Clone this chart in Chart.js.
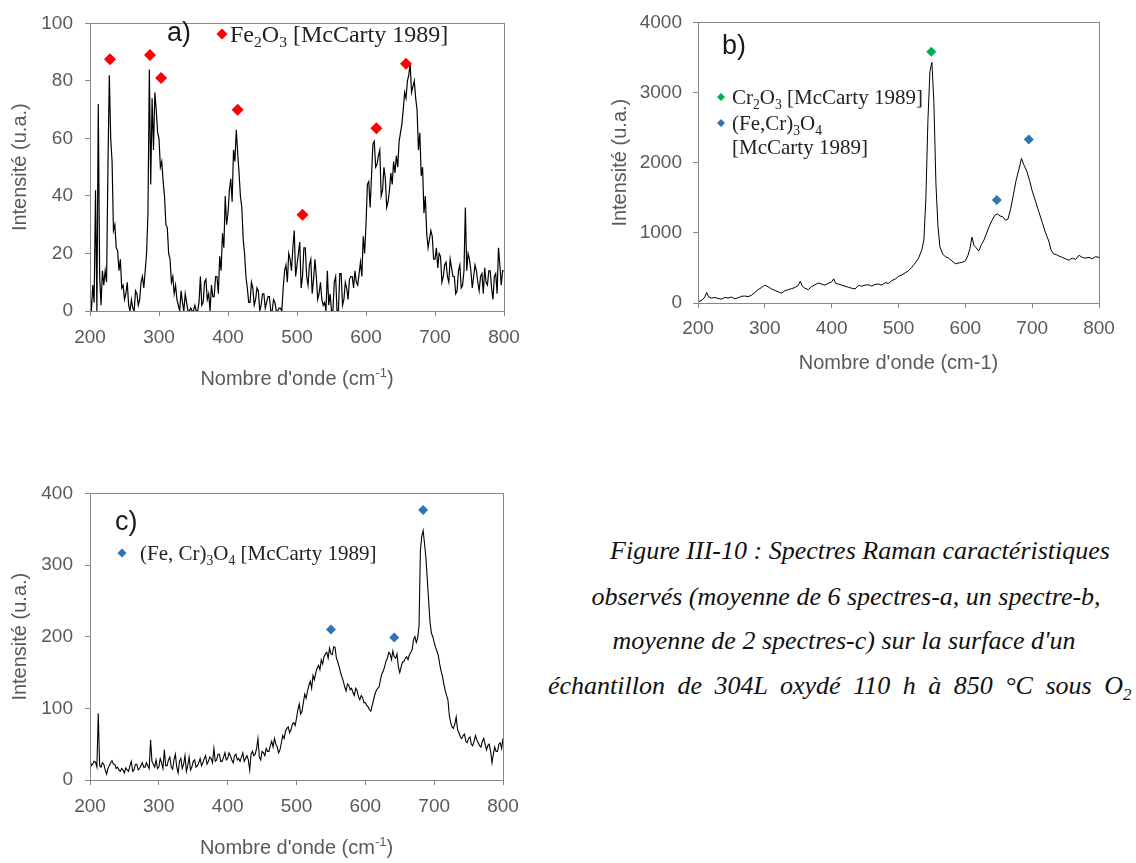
<!DOCTYPE html>
<html lang="fr">
<head>
<meta charset="UTF-8">
<title>Spectres Raman</title>
<script src="https://cdn.jsdelivr.net/npm/chart.js"></script>
<style>
  body { margin: 0; width: 1136px; height: 863px; overflow: hidden; background: #fff; position: relative; }
  .box { position: absolute; }
  .cap { position: absolute; transform: translateX(-50%); white-space: nowrap;
         font: italic 26px "Liberation Serif", "Times New Roman", serif; color: #111; line-height: 30px; }
  .cap sub { font-size: 17px; line-height: 0; }
</style>
</head>
<body>
<div class="box" style="left:0;top:0;width:530px;height:400px"><canvas id="chartA"></canvas></div>
<div class="box" style="left:600px;top:0;width:536px;height:380px"><canvas id="chartB"></canvas></div>
<div class="box" style="left:0;top:470px;width:530px;height:393px"><canvas id="chartC"></canvas></div>

<div class="cap" style="left:860px;top:536px">Figure III-10 : Spectres Raman caractéristiques</div>
<div class="cap" style="left:846px;top:582px">observés (moyenne de 6 spectres-a, un spectre-b,</div>
<div class="cap" style="left:844px;top:626px">moyenne de 2 spectres-c) sur la surface d'un</div>
<div class="cap" style="left:548px;top:671px;transform:none;word-spacing:6px">échantillon de 304L oxydé 110 h à 850 °C sous O<sub>2</sub></div>

<script>
// ---- spectre a) : moyenne de 6 spectres, pas de 2 cm-1 depuis 200
const startA = 200, stepA = 2;
const intensityA = [
  6, 0, 9, 3, 42, 0, 72, 12, 2, 14, 9, 14, 10, 50, 82, 60, 52, 28, 30, 22,
  21, 14, 18, 8, 9, 4, 6, 10, 2, 0, 4, 1, 0, 7, 6, 2, 4, 10, 12, 8,
  14, 20, 34, 84, 44, 74, 56, 76, 70, 62, 60, 50, 52, 45, 40, 30, 29, 20, 18, 10,
  12, 6, 9, 4, 2, 0, 7, 3, 0, 6, 3, 0, 0, 1, 0, 0, 2, 0, 0, 3,
  12, 2, 3, 10, 11, 4, 6, 0, 9, 5, 5, 12, 12, 6, 19, 14, 27, 22, 40, 30,
  34, 42, 46, 38, 56, 52, 63, 55, 48, 40, 36, 25, 20, 12, 8, 3, 3, 10, 8, 2,
  4, 8, 7, 0, 2, 6, 6, 1, 3, 5, 5, 0, 0, 4, 3, 0, 0, 1, 1, 0,
  8, 14, 16, 10, 20, 18, 14, 22, 28, 12, 16, 20, 24, 8, 12, 22, 22, 12, 9, 16,
  18, 6, 11, 18, 12, 4, 6, 10, 4, 2, 3, 0, 14, 2, 6, 0, 0, 10, 12, 0,
  0, 13, 13, 2, 4, 10, 8, 4, 11, 12, 12, 8, 14, 10, 9, 13, 17, 12, 26, 20,
  30, 44, 45, 36, 47, 58, 59, 50, 51, 54, 56, 40, 42, 50, 46, 36, 38, 42, 48, 44,
  52, 48, 54, 50, 59, 62, 65, 70, 76, 74, 80, 82, 86, 76, 78, 80, 74, 70, 56, 62,
  47, 50, 34, 40, 27, 22, 25, 28, 26, 18, 18, 22, 15, 20, 19, 10, 12, 16, 17, 12,
  10, 18, 15, 12, 12, 6, 7, 14, 16, 8, 9, 14, 36, 14, 20, 18, 14, 8, 12, 16,
  14, 10, 7, 12, 13, 6, 15, 10, 9, 14, 14, 8, 4, 12, 13, 6, 22, 16, 9, 14,
  14
];
const peaksAx = [229, 287, 303, 414, 508, 615, 658];
const peaksAy = [87.5, 89, 81, 70, 33.5, 63.5, 86];

// ---- spectre b) : un spectre
const waveB = [
  200, 205, 210, 213, 216, 220, 225, 230, 235, 240,
  245, 250, 255, 260, 265, 270, 275, 280, 285, 290,
  295, 300, 305, 310, 315, 320, 325, 330, 335, 340,
  345, 350, 353, 356, 360, 365, 370, 375, 380, 385,
  390, 395, 400, 403, 406, 410, 415, 420, 425, 430,
  435, 440, 445, 450, 455, 460, 465, 470, 475, 480,
  485, 490, 495, 500, 505, 510, 515, 520, 525, 530,
  535, 538, 541, 544, 547, 550, 553, 556, 559, 562,
  566, 570, 575, 580, 585, 590, 595, 600, 604, 607,
  610, 613, 616, 620, 624, 628, 632, 636, 640, 644,
  648, 652, 656, 660, 664, 668, 672, 676, 680, 684,
  688, 692, 696, 700, 705, 710, 715, 720, 725, 728,
  732, 736, 740, 745, 750, 755, 760, 765, 770, 775,
  780, 785, 790, 795, 800
];
const intensityB = [
  20, 35, 80, 150, 85, 70, 80, 65, 55, 80,
  70, 85, 60, 75, 95, 100, 90, 110, 150, 190,
  220, 255, 230, 200, 180, 160, 140, 175, 190, 205,
  220, 250, 310, 240, 210, 190, 235, 260, 285, 270,
  255, 280, 300, 345, 280, 270, 255, 240, 225, 210,
  200, 250, 240, 255, 260, 240, 265, 270, 255, 290,
  280, 320, 340, 380, 400, 430, 460, 510, 570, 640,
  760, 900, 1500, 2600, 3300, 3430, 2850, 1700, 1100, 800,
  700, 660, 640, 600, 560, 570, 580, 600, 680, 780,
  940, 820, 790, 740, 830, 900, 1000, 1100, 1180, 1250,
  1270, 1240, 1230, 1180, 1200, 1350, 1550, 1750, 1900, 2060,
  1960, 1880, 1750, 1600, 1450, 1300, 1150, 1000, 880, 760,
  700, 690, 670, 650, 630, 610, 640, 620, 680, 650,
  640, 650, 630, 660, 650
];
const peaksBx = [549, 647, 695];
const peaksBy = [3580, 1470, 2330];

// ---- spectre c) : moyenne de 2 spectres, pas de 2 cm-1 depuis 200
const startC = 200, stepC = 2;
const intensityC = [
  28, 20, 22, 26, 25, 18, 93, 20, 18, 24, 22, 14, 8, 16, 20, 24, 27, 22, 22, 16,
  18, 14, 12, 16, 14, 10, 17, 14, 12, 20, 26, 12, 14, 22, 22, 14, 16, 20, 24, 18,
  18, 24, 20, 16, 56, 26, 22, 18, 28, 16, 18, 30, 24, 16, 42, 20, 20, 28, 32, 18,
  15, 28, 36, 18, 10, 26, 30, 16, 22, 34, 12, 20, 32, 14, 18, 26, 28, 18, 20, 24,
  30, 20, 24, 30, 34, 22, 26, 32, 30, 24, 44, 26, 28, 36, 36, 26, 26, 32, 38, 28,
  30, 38, 34, 28, 24, 34, 36, 28, 30, 26, 32, 38, 26, 30, 34, 28, 14, 36, 40, 34,
  36, 44, 58, 32, 28, 40, 38, 34, 44, 40, 40, 48, 54, 46, 58, 50, 46, 38, 42, 52,
  62, 58, 68, 72, 74, 66, 70, 78, 80, 76, 86, 98, 106, 92, 96, 108, 120, 114, 124, 132,
  138, 128, 146, 140, 150, 156, 160, 154, 168, 162, 172, 176, 178, 170, 184, 176, 175, 186, 185, 170,
  165, 158, 150, 144, 138, 130, 124, 134, 132, 126, 128, 122, 118, 128, 125, 116, 112, 118, 115, 108,
  108, 104, 102, 98, 96, 104, 112, 120, 125, 128, 130, 140, 148, 152, 158, 166, 170, 178, 176, 168,
  180, 172, 170, 176, 158, 150, 158, 165, 165, 170, 172, 168, 175, 178, 182, 196, 200, 192, 198, 215,
  320, 340, 348, 330, 310, 280, 250, 220, 205, 200, 192, 185, 180, 174, 162, 152, 145, 134, 125, 118,
  112, 90, 80, 74, 72, 78, 88, 70, 66, 60, 58, 62, 64, 54, 52, 58, 60, 50, 48, 54,
  62, 56, 52, 48, 46, 54, 58, 50, 42, 48, 50, 40, 24, 36, 46, 40, 40, 50, 52, 44,
  58
];
const peaksCx = [550, 642, 684];
const peaksCy = [210, 199, 377];

const RED = '#FF0000', GREEN = '#00B050', BLUE = '#2E75B6';
const FRAME = '#868686', TXT = '#595959';
const SANS = '"Liberation Sans", Arial, sans-serif';
const SERIF = '"Liberation Serif", "Times New Roman", serif';

// texte avec indices / exposants
function runsWidth(ctx, parts, size, family) {
  let w = 0;
  for (const [t, m] of parts) {
    ctx.font = (m ? size * 0.65 : size) + 'px ' + family;
    w += ctx.measureText(t).width;
  }
  return w;
}
function runs(ctx, x, yc, parts, size, family, color) {
  const base = yc + size * 0.35;
  ctx.fillStyle = color;
  ctx.textAlign = 'left';
  ctx.textBaseline = 'alphabetic';
  for (const [t, m] of parts) {
    const s = m ? size * 0.65 : size;
    ctx.font = s + 'px ' + family;
    const dy = m === 'sub' ? size * 0.2 : m === 'sup' ? -size * 0.42 : 0;
    ctx.fillText(t, x, base + dy);
    x += ctx.measureText(t).width;
  }
}
function diamond(ctx, x, y, r, color) {
  ctx.beginPath();
  ctx.moveTo(x, y - r); ctx.lineTo(x + r, y); ctx.lineTo(x, y + r); ctx.lineTo(x - r, y);
  ctx.closePath();
  ctx.fillStyle = color;
  ctx.fill();
}

const decor = {
  id: 'decor',
  afterDraw(chart, args, o) {
    const ctx = chart.ctx, a = chart.chartArea;
    ctx.save();
    ctx.strokeStyle = FRAME;
    ctx.lineWidth = 1;
    ctx.strokeRect(Math.round(a.left) + 0.5, Math.round(a.top) + 0.5,
                   Math.round(a.right - a.left), Math.round(a.bottom - a.top));

    // titre axe y
    ctx.save();
    ctx.translate(20, (a.top + a.bottom) / 2);
    ctx.rotate(-Math.PI / 2);
    ctx.font = '20px ' + SANS;
    ctx.fillStyle = TXT;
    ctx.textAlign = 'center';
    ctx.textBaseline = 'middle';
    ctx.fillText('Intensité (u.a.)', 0, 0);
    ctx.restore();

    // titre axe x
    const w = runsWidth(ctx, o.xTitle, 20, SANS);
    runs(ctx, (a.left + a.right) / 2 - w / 2, o.xTitleY, o.xTitle, 20, SANS, TXT);

    // repère du panneau
    ctx.font = '27px ' + SANS;
    ctx.fillStyle = '#1a1a1a';
    ctx.textAlign = 'left';
    ctx.textBaseline = 'middle';
    ctx.fillText(o.panel[0], o.panel[1], o.panel[2]);

    // légende
    for (const item of o.legend) {
      if (item.color) diamond(ctx, item.dx, item.y, item.r, item.color);
      runs(ctx, item.x, item.y, item.parts, item.size, SERIF, '#222');
    }
    ctx.restore();
  }
};

function pts(xs, ys) { return xs.map((x, i) => ({ x: x, y: ys[i] })); }
function grid(start, step, ys) { return ys.map((y, i) => ({ x: start + step * i, y: y })); }

function spectrum(id, line, marks, markColors, cfg) {
  return new Chart(document.getElementById(id), {
    type: 'scatter',
    data: {
      datasets: [
        { data: marks, pointStyle: 'rectRot', pointRadius: cfg.mark, backgroundColor: markColors,
          borderWidth: 0, showLine: false, clip: false },
        { data: line, showLine: true, borderColor: '#000', borderWidth: cfg.lw,
          pointRadius: 0, tension: 0 }
      ]
    },
    options: {
      responsive: true,
      maintainAspectRatio: false,
      animation: false,
      events: [],
      layout: { padding: { top: cfg.top, right: cfg.right, left: 0, bottom: 0 } },
      scales: {
        x: {
          type: 'linear', min: 200, max: 800,
          afterFit: s => { s.height = cfg.xh; },
          border: { display: false },
          grid: { drawOnChartArea: false, drawTicks: true, tickLength: 5, tickColor: FRAME },
          ticks: { stepSize: 100, autoSkip: false, padding: cfg.xpad, color: TXT,
                   font: { family: SANS, size: 19 }, callback: v => String(v) }
        },
        y: {
          type: 'linear', min: 0, max: cfg.ymax,
          afterFit: s => { s.width = cfg.yw; },
          border: { display: false },
          grid: { drawOnChartArea: false, drawTicks: true, tickLength: 5, tickColor: FRAME },
          ticks: { stepSize: cfg.ystep, padding: cfg.ypad, color: TXT,
                   font: { family: SANS, size: 19 }, callback: v => String(v) }
        }
      },
      plugins: { legend: { display: false }, tooltip: { enabled: false }, decor: cfg.decor }
    },
    plugins: [decor]
  });
}

const sup = [["Nombre d'onde (cm", ''], ['-1', 'sup'], [')', '']];

spectrum('chartA', grid(startA, stepA, intensityA), pts(peaksAx, peaksAy), RED, {
  mark: 6, lw: 1.2, top: 15, right: 26, xh: 89, yw: 90, xpad: 10, ypad: 12, ymax: 100, ystep: 20,
  decor: {
    xTitle: sup, xTitleY: 378, panel: ['a)', 167, 34],
    legend: [{ color: RED, dx: 222, x: 230, y: 34, r: 5.5, size: 24,
               parts: [['Fe', ''], ['2', 'sub'], ['O', ''], ['3', 'sub'], [' [McCarty 1989]', '']] }]
  }
});

spectrum('chartB', pts(waveB, intensityB), pts(peaksBx, peaksBy), [GREEN, BLUE, BLUE], {
  mark: 5, lw: 1, top: 15, right: 37, xh: 77, yw: 98, xpad: 9, ypad: 11, ymax: 4000, ystep: 1000,
  decor: {
    xTitle: [["Nombre d'onde (cm-1)", '']], xTitleY: 362, panel: ['b)', 122, 47],
    legend: [
      { color: GREEN, dx: 121, x: 132, y: 97, r: 4, size: 21,
        parts: [['Cr', ''], ['2', 'sub'], ['O', ''], ['3', 'sub'], [' [McCarty 1989]', '']] },
      { color: BLUE, dx: 121, x: 132, y: 123, r: 4, size: 21,
        parts: [['(Fe,Cr)', ''], ['3', 'sub'], ['O', ''], ['4', 'sub']] },
      { color: null, x: 132, y: 147, size: 21, parts: [['[McCarty 1989]', '']] }
    ]
  }
});

spectrum('chartC', grid(startC, stepC, intensityC), pts(peaksCx, peaksCy), BLUE, {
  mark: 5, lw: 1.1, top: 16, right: 27, xh: 83, yw: 90, xpad: 10, ypad: 12, ymax: 400, ystep: 100,
  decor: {
    xTitle: sup, xTitleY: 377, panel: ['c)', 115, 53],
    legend: [{ color: BLUE, dx: 122, x: 140, y: 83, r: 4.5, size: 21,
               parts: [['(Fe, Cr)', ''], ['3', 'sub'], ['O', ''], ['4', 'sub'], [' [McCarty 1989]', '']] }]
  }
});
</script>
</body>
</html>
